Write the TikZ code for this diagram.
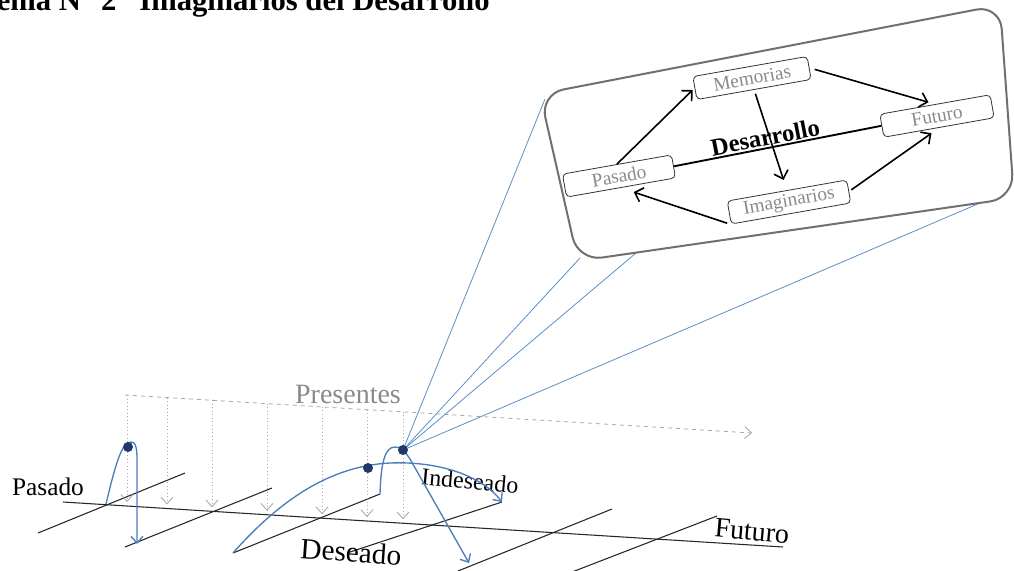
\documentclass[tikz,border=0pt]{standalone}
\usepackage{fontspec}
\setmainfont{Liberation Serif}
\usetikzlibrary{arrows.meta,calc}
\definecolor{cblue}{HTML}{4A7EBB}
\definecolor{cfan}{HTML}{5B8FC7}
\definecolor{cdot}{HTML}{1F3A68}
\definecolor{lgray}{HTML}{A8A8A8}
\definecolor{tgray}{HTML}{8A8A8A}
\definecolor{bgray}{HTML}{707070}
\begin{document}
\begin{tikzpicture}[x=0.75pt,y=-0.75pt,
  axisline/.style={draw=black!85,line width=0.8pt},
  presarrow/.style={draw=lgray,dotted,line width=0.65pt,-{Straight Barb[length=5pt,width=9pt]}},
  presline/.style={draw=lgray,dashed,line width=0.6pt,-{Straight Barb[length=5pt,width=9pt]}},
  curve/.style={draw=cblue,line width=1pt},
  curvearrow/.style={curve,-{Straight Barb[length=5pt,width=9pt]}},
  fan/.style={draw=cfan,line width=0.6pt},
  blob/.style={circle,fill=cdot,minimum size=7.5pt,inner sep=0pt},
  lbl/.style={font=\fontsize{19}{20}\selectfont,inner sep=0pt},
  ibox/.style={draw=black!80,line width=0.6pt,rounded corners=3pt,rotate=10,minimum height=17.5pt,inner sep=0pt,text=tgray,font=\fontsize{14.5}{15}\selectfont},
  iarrow/.style={draw=black,line width=1.2pt,-{Straight Barb[length=5.5pt,width=11pt]}},
  frame/.style={draw=bgray,line width=1.5pt,rounded corners=18pt}
]
\useasboundingbox (0,0) rectangle (1014,571);

% title (cut by the top edge, as in the reference)
\node[anchor=base east,inner sep=0pt,font=\fontsize{23}{24}\selectfont\bfseries] (title) at (490,10.5)
  {Esquema N° 2\hspace{0.75em}Imaginarios del Desarrollo};

% ---------- lower part: time axes ----------
\coordinate (m0) at (63,502);
\coordinate (m1) at (783,547);
\draw[axisline] (m0) -- (m1);

\coordinate (t1a) at (38,533);  \coordinate (t1b) at (185,473);
\coordinate (t2a) at (125,547); \coordinate (t2b) at (272,488);
\coordinate (t3a) at (233,553); \coordinate (t3b) at (380,494);
\coordinate (t4a) at (347,553); \coordinate (t4b) at (502,502);
\coordinate (t5a) at (458,571); \coordinate (t5b) at (612,509);
\coordinate (t6a) at (572,572); \coordinate (t6b) at (717,516);
\foreach \i in {1,...,6}{\draw[axisline] (t\i a) -- (t\i b);}

% presentes dashed arrow and dotted drops
\coordinate (p0) at (125,395);
\coordinate (p1) at (752,433);
\draw[presline] (p0) -- (p1);
\foreach \x in {127,167,212,267,322,367,403}{
  \draw[presarrow] (\x,{395+0.0606*(\x-125)}) -- (\x,{498+0.0625*(\x-63)});
}

% labels
\node[lbl] (lpas) at (48,487) {Pasado};
\node[lbl,text=tgray,font=\fontsize{21}{22}\selectfont] (lpre) at (348,394) {Presentes};
\node[lbl,font=\fontsize{22}{23}\selectfont,rotate=-4] (ldes) at (351,552) {Deseado};
\node[lbl,font=\fontsize{18}{19}\selectfont,rotate=-5] (lind) at (470,481) {Indeseado};
\node[lbl,font=\fontsize{21}{22}\selectfont,rotate=-5] (lfut) at (752,531) {Futuro};

% ---------- the zoomed box ----------
\coordinate (fTL) at (540,94);
\coordinate (fTR) at (1000,5);
\coordinate (fBR) at (1014,198);
\coordinate (fBL) at (578,261);

\coordinate (d2c) at (403,450);

% fan lines from the present point to the box
\coordinate (e1) at (545,99);
\coordinate (e2) at (580,258);
\coordinate (e3) at (636,253);
\coordinate (e4) at (980,203);
\foreach \e in {e1,e2,e3,e4}{\draw[fan] (d2c) -- (\e);}

\draw[frame,fill=white] (fTL) -- (fTR) -- (fBR) -- (fBL) -- cycle;

% blue curves
\draw[curvearrow] (106,504) .. controls (116,462) and (122,442) .. (131,442)
   .. controls (138,442) and (137,455) .. (137,472) -- (137,544);
\draw[curvearrow] (t3a) .. controls (280,500) and (330,466) .. (390,463)
   .. controls (440,461) and (482,476) .. (t4b);
\draw[curvearrow] (t3b) .. controls (381,462) and (385,447) .. (395,447)
   .. controls (400,447) and (404,450) .. (410,459) -- (469,563);
\node[blob] (d0) at (128,447) {};
\node[blob] (d1) at (368,468) {};
\node[blob] (d2) at (d2c) {};

% inner diagram
\node[ibox,minimum width=87pt] (mem) at (752,78) {Memorias};
\node[ibox,minimum width=84pt] (fut) at (937,116) {Futuro};
\node[ibox,minimum width=83pt] (pas) at (619,176) {Pasado};
\node[ibox,minimum width=91pt] (ima) at (789,202) {Imaginarios};

\draw[draw=black,line width=1.4pt] (pas.east) -- (fut.west)
  node[pos=0.45,sloped,anchor=south,inner sep=1pt,font=\fontsize{18.5}{19}\selectfont\bfseries] (ldesa) {Desarrollo};

\draw[iarrow,shorten >=2pt] (pas.north) -- (mem.west);
\draw[iarrow,shorten <=4pt,shorten >=5pt] (mem.east) -- (fut.north);
\draw[iarrow,shorten <=3pt,shorten >=8pt] (mem.south) -- (ima.north);
\draw[iarrow,shorten <=2pt,shorten >=7pt] (ima.east) -- (fut.south);
\draw[iarrow,shorten <=3pt,shorten >=10pt] (ima.south west) -- (pas.south);
\end{tikzpicture}
\end{document}
